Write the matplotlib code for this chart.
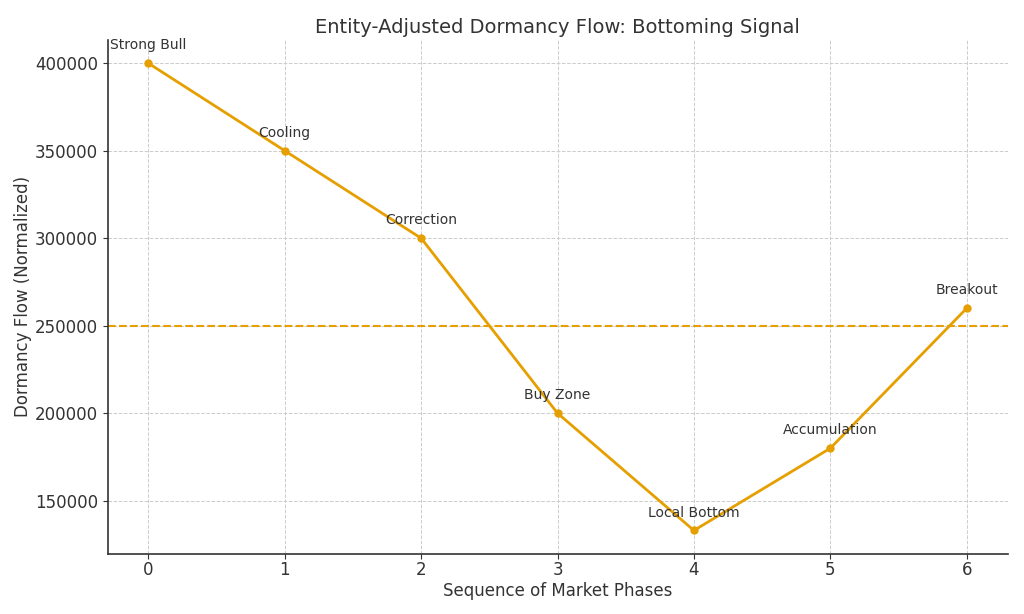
import matplotlib
matplotlib.use("Agg")
import matplotlib.pyplot as plt

# data
phases = [0, 1, 2, 3, 4, 5, 6]
flow = [400000, 350000, 300000, 200000, 133000, 180000, 260000]
labels = ["Strong Bull", "Cooling", "Correction", "Buy Zone",
          "Local Bottom", "Accumulation", "Breakout"]
threshold = 250000

color = "#E69F00"
text_color = "#333333"

plt.rcParams["font.family"] = ["DejaVu Sans"]
plt.rcParams["text.color"] = text_color
plt.rcParams["axes.labelcolor"] = text_color
plt.rcParams["xtick.color"] = text_color
plt.rcParams["ytick.color"] = text_color
plt.rcParams["axes.edgecolor"] = text_color

fig, ax = plt.subplots(figsize=(10.24, 6.14), dpi=100)
ax.plot(phases, flow, marker="o", color=color, linewidth=2, markersize=5)
ax.axhline(threshold, color=color, linestyle="--", linewidth=1.5)

# phase names above each point
for x, y, lab in zip(phases, flow, labels):
    ax.annotate(lab, (x, y), textcoords="offset points", xytext=(0, 10),
                ha="center", fontsize=10, color=text_color)

ax.set_title("Entity-Adjusted Dormancy Flow: Bottoming Signal", fontsize=14, pad=5)
ax.set_xlabel("Sequence of Market Phases", fontsize=12, labelpad=2)
ax.set_ylabel("Dormancy Flow (Normalized)", fontsize=12, labelpad=2)
ax.tick_params(labelsize=12)
ax.tick_params(axis="x", pad=2)
ax.grid(True, linestyle="--", color="#cccccc", linewidth=0.7)
ax.spines["top"].set_visible(False)
ax.spines["right"].set_visible(False)
ax.spines["left"].set_linewidth(1.2)
ax.spines["bottom"].set_linewidth(1.2)

fig.subplots_adjust(left=0.105, right=0.984, top=0.935, bottom=0.098)
fig.savefig("out.png", dpi=100)
